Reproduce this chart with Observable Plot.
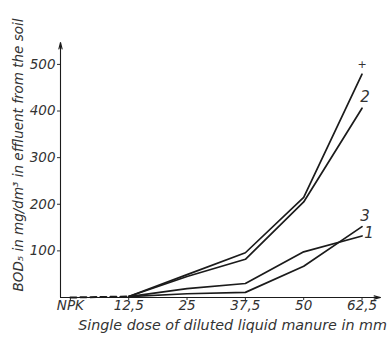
<!DOCTYPE html>
<html><head><meta charset="utf-8">
<script src="https://cdn.jsdelivr.net/npm/d3@7"></script>
<script src="https://cdn.jsdelivr.net/npm/@observablehq/plot@0.6"></script>
<style>body{margin:0;background:#fff} svg{display:block}</style>
</head><body><div id="chart"></div>
<script>
// Data
const doses = [0, 12.5, 25, 37.5, 50, 62.5];
const doseLabels = ["NPK", "12,5", "25", "37,5", "50", "62,5"];
const yTicks = [100, 200, 300, 400, 500];
const seriesNames = ["+", "2", "3", "1"];
const bodPlus = [0, 2, 49, 96, 215, 479];
const bod2 = [0, 2, 45, 82, 205, 406];
const bod3 = [0, 2, 8, 11, 67, 152];
const bod1 = [0, 2, 19, 30, 98, 132];
const xTitle = "Single dose of diluted liquid manure in mm";
const yTitle = "BOD\u2085 in mg/dm\u00b3 in effluent from the soil";

const allSeries = [bodPlus, bod2, bod3, bod1];
const rows = [];
allSeries.forEach((vals, s) => {
  vals.forEach((v, i) => rows.push({series: seriesNames[s], dose: doses[i], bod: v, i}));
});
const solid = rows.filter(d => d.i >= 1);
const dashed = rows.filter(d => d.series === seriesNames[3] && d.i <= 1);
const ends = rows.filter(d => d.i === doses.length - 1);

const xDomain = [-2.12, 66.46];
const yDomain = [0, 547];
const ink = "#1b1b1b";

const chart = Plot.plot({
  width: 389,
  height: 338,
  marginLeft: 60,
  marginRight: 9,
  marginTop: 42,
  marginBottom: 41,
  style: {fontFamily: "'DejaVu Sans', sans-serif", fontSize: "13.5px", fontStyle: "italic", color: "#333", background: "#fff"},
  x: {domain: xDomain, ticks: doses, tickFormat: (d) => doseLabels[doses.indexOf(d)], tickSize: 3, tickPadding: 0, label: null},
  y: {domain: yDomain, ticks: yTicks, tickFormat: d => String(d), tickSize: 3, tickPadding: 2, label: null},
  marks: [
    Plot.arrow([0], {x1: xDomain[0], y1: 0, x2: xDomain[0], y2: yDomain[1], stroke: ink, strokeWidth: 1.1, headLength: 9, headAngle: 28}),
    Plot.arrow([0], {x1: xDomain[0], y1: 0, x2: xDomain[1], y2: 0, stroke: ink, strokeWidth: 1.1, headLength: 9, headAngle: 28}),
    Plot.line(dashed, {x: "dose", y: "bod", stroke: ink, strokeWidth: 2, strokeDasharray: "6,4"}),
    Plot.line(solid, {x: "dose", y: "bod", z: "series", stroke: ink, strokeWidth: 1.7}),
    Plot.text(ends.filter(d => d.series === "+"), {x: "dose", y: "bod", text: "series", dx: 0, dy: -10, fill: "#333", fontSize: 11, fontStyle: "normal"}),
    Plot.text(ends.filter(d => d.series === "2"), {x: "dose", y: "bod", text: "series", dx: 3, dy: -11, fill: "#333", fontSize: 15}),
    Plot.text(ends.filter(d => d.series === "3"), {x: "dose", y: "bod", text: "series", dx: 3, dy: -10, fill: "#333", fontSize: 15}),
    Plot.text(ends.filter(d => d.series === "1"), {x: "dose", y: "bod", text: "series", dx: 7, dy: -3, fill: "#333", fontSize: 15}),
    Plot.text([xTitle], {frameAnchor: "bottom", text: d => d, textAnchor: "middle", lineAnchor: "middle", dx: 12, dy: 28, fill: "#333", fontSize: 14.3}),
    Plot.text([yTitle], {frameAnchor: "bottom-left", text: d => d, textAnchor: "start", lineAnchor: "middle", rotate: -90, dx: -42, dy: -6, fill: "#333", fontSize: 13.5})
  ]
});
document.getElementById("chart").appendChild(chart);
</script>
</body></html>
